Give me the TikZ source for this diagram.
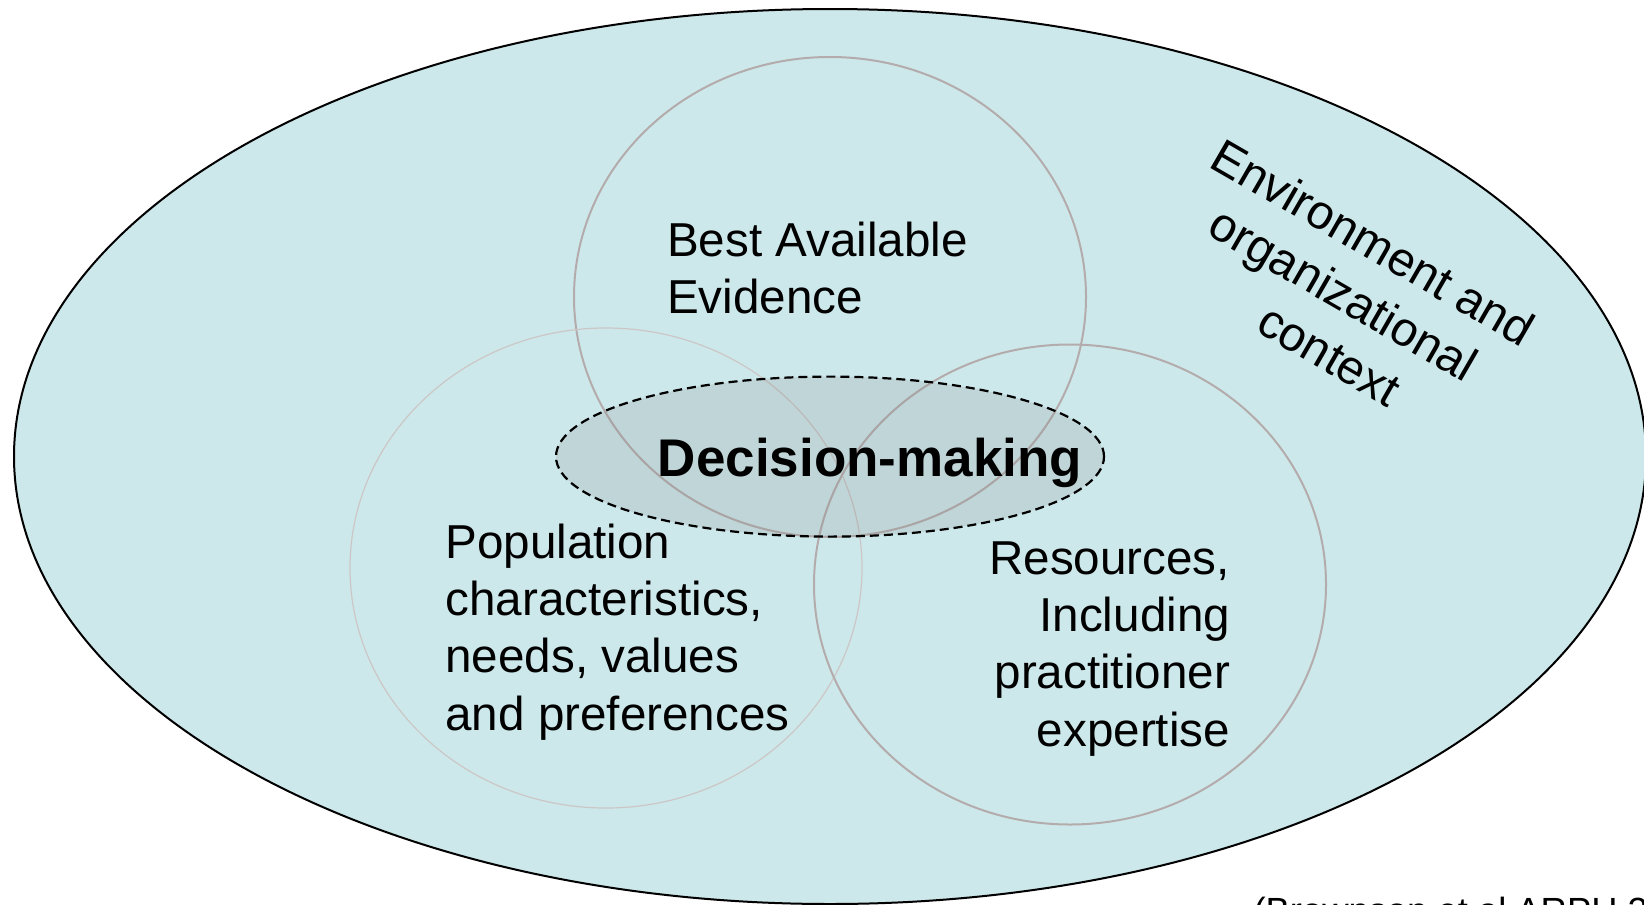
\documentclass[tikz,border=0pt]{standalone}
\usepackage{fontspec}
\setmainfont{Liberation Sans}
\usetikzlibrary{shapes.geometric}
\definecolor{ctxfill}{RGB}{205,232,235}
\definecolor{ringgray}{RGB}{180,172,172}
\definecolor{ringlight}{RGB}{204,198,198}
\begin{document}
\begin{tikzpicture}[x=1pt,y=-1pt,
  shapeE/.style={ellipse, inner sep=0pt, outer sep=0pt},
  ring/.style={shapeE, draw=ringgray, line width=2pt, minimum width=512pt, minimum height=480pt},
  lbl/.style={inner sep=0pt, outer sep=0pt, font=\fontsize{47.6}{57.3}\selectfont},
]
\clip (0,0) rectangle (1644,905);
\node[shapeE, draw=black, line width=2pt, fill=ctxfill, minimum width=1632pt, minimum height=895pt] (context) at (830,456.5) {};
\node[ring] (evidence) at (830,297) {};
\node[ring, draw=ringlight, line width=1.2pt] (population) at (606,568) {};
\node[ring] (resources) at (1070,584.5) {};
\node[shapeE, draw=black, line width=2.2pt, dash pattern=on 9pt off 5pt, fill=gray, fill opacity=0.18, minimum width=548pt, minimum height=160pt] (decision) at (830,456.6) {};
\node[lbl, anchor=base west] (tEvidence) at (667,256) {\begin{tabular}[t]{@{}l@{}}Best Available\\Evidence\end{tabular}};
\node[lbl, anchor=base west] (tPopulation) at (445.5,558.3) {\begin{tabular}[t]{@{}l@{}}Population\\characteristics,\\needs, values\\and preferences\end{tabular}};
\node[lbl, anchor=base east] (tResources) at (1230,574.3) {\begin{tabular}[t]{@{}r@{}}Resources,\\Including\\practitioner\\expertise\end{tabular}};
\node[lbl, rotate=-30, anchor=base, font=\fontsize{48}{59.5}\selectfont] (tContext) at (1365,257) {\begin{tabular}[t]{@{}c@{}}Environment and\\organizational\\\hspace*{36pt}context\end{tabular}};
\node[inner sep=0pt, outer sep=0pt, anchor=base, font=\bfseries\fontsize{53}{63}\selectfont] (tDecision) at (870,476) {Decision-making};
\node[inner sep=0pt, outer sep=0pt, anchor=base west, font=\fontsize{36.4}{44}\selectfont] (cite) at (1253.5,923) {(Brownson et al ARPH 2};
\end{tikzpicture}
\end{document}
